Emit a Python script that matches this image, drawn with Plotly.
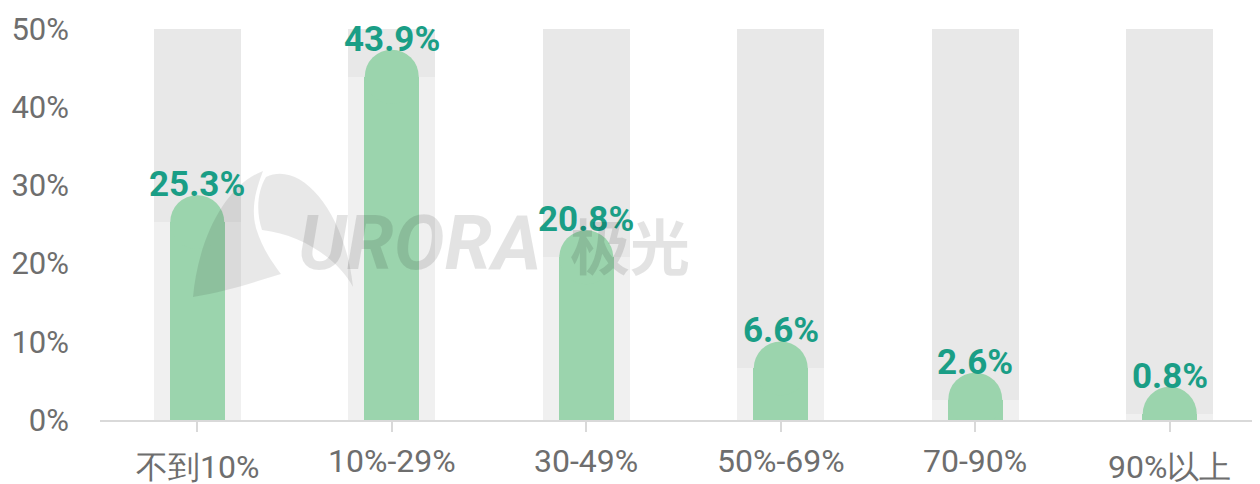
import plotly.graph_objects as go

categories = ["不到10%", "10%-29%", "30-49%", "50%-69%", "70-90%", "90%以上"]
values = [25.3, 43.9, 20.8, 6.6, 2.6, 0.8]
y_max = 50
y_ticks = [0, 10, 20, 30, 40, 50]
y_tick_labels = ["0%", "10%", "20%", "30%", "40%", "50%"]

# page has an 8px body margin; the figure is offset by it
OFF = 8
W, H = 1260 - OFF, 484 - OFF
M_L, M_R, M_T = 100 - OFF, 0, 29 - OFF
M_B = H - (420 - OFF)
plot_h = H - M_T - M_B
plot_w = W - M_L - M_R
cat_px = 194.5
cap_px = 27  # radius of rounded cap

x = list(range(len(categories)))

fig = go.Figure()
# full-height background column
fig.add_bar(x=x, y=[y_max] * len(x), width=0.447, marker=dict(color="#e8e8e8", line_width=0),
            hoverinfo="skip", showlegend=False)
# lighter portion up to the value
fig.add_bar(x=x, y=values, width=0.447, marker=dict(color="#f0f0f0", line_width=0),
            hoverinfo="skip", showlegend=False)
# green bars
fig.add_bar(x=x, y=values, width=0.283,
            marker=dict(color="#9bd4ad", line_width=0),
            hovertemplate="%{y}%<extra></extra>", showlegend=False)
# rounded caps (circles centred on the value, clipped at the axis)
fig.add_scatter(x=x, y=values, mode="markers", cliponaxis=True,
                marker=dict(symbol="circle", size=2 * cap_px, color="#9bd4ad", line_width=0),
                hoverinfo="skip", showlegend=False)

for xi, v in zip(x, values):
    fig.add_annotation(x=xi, y=v, text=f"{v}%", showarrow=False, yanchor="bottom",
                       yshift=cap_px - 12,
                       font=dict(family="Roboto", size=35, color="#1a9e86", weight="bold"))

# category labels (labels with CJK characters sit a little lower, as in the original)
for xi, lab in zip(x, categories):
    has_cjk = any(ord(ch) > 0x2E80 for ch in lab)
    fig.add_annotation(x=xi, y=0, text=lab, showarrow=False, yanchor="top",
                       yshift=-20 - (6 if has_cjk else 0),
                       font=dict(family="Roboto", size=32, color="#6e6e6e"))

# watermark
def to_paper(px, py):
    return (px - OFF - M_L) / plot_w, (H - M_B - (py - OFF)) / plot_h

def path(points_cmds):
    out = []
    for cmd, pts in points_cmds:
        coords = []
        for (px, py) in pts:
            a, b = to_paper(px, py)
            coords.append(f"{a:.5f},{b:.5f}")
        out.append(cmd + " " + " ".join(coords))
    return " ".join(out) + " Z"

leg = path([
    ("M", [(193, 297)]),
    ("C", [(198, 240), (225, 185), (263, 171)]),
    ("C", [(258, 185), (250, 205), (256, 228)]),
    ("C", [(262, 248), (272, 262), (281, 274)]),
    ("C", [(255, 282), (225, 292), (193, 297)]),
])
blade = path([
    ("M", [(266, 177)]),
    ("C", [(300, 160), (345, 210), (353, 287)]),
    ("C", [(340, 262), (305, 235), (262, 230)]),
    ("C", [(256, 212), (257, 192), (266, 177)]),
])
for p in (leg, blade):
    fig.add_shape(type="path", path=p, xref="paper", yref="paper",
                  fillcolor="rgba(0,0,0,0.09)", line_width=0, layer="above")

wx, wy = to_paper(296, 243)
fig.add_annotation(x=wx, y=wy, xref="paper", yref="paper", xanchor="left", text="<i><b>URORA</b></i>",
                   showarrow=False,
                   font=dict(family="Roboto", size=76, color="rgba(0,0,0,0.11)"))
cx, cy = to_paper(568, 243)
fig.add_annotation(x=cx, y=cy, xref="paper", yref="paper", xanchor="left", text="<b>极光</b>", showarrow=False,
                   font=dict(family="Noto Sans CJK SC", size=60, color="rgba(0,0,0,0.11)"))

fig.update_layout(
    width=W, height=H,
    margin=dict(l=M_L, r=M_R, t=M_T, b=M_B, pad=0, autoexpand=False),
    paper_bgcolor="white", plot_bgcolor="white",
    barmode="overlay",
    bargap=0,
    font=dict(family="Roboto", color="#6e6e6e", size=30),
    xaxis=dict(
        tickmode="array", tickvals=x, ticktext=[""] * len(x),
        range=[-0.5, -0.5 + plot_w / cat_px],
        showline=True, linecolor="#d9d9d9", linewidth=2,
        ticks="outside", tickson="boundaries", ticklen=10, tickcolor="#d9d9d9", tickwidth=2,
        showgrid=False, zeroline=False, automargin=False,
    ),
    yaxis=dict(
        range=[0, y_max], tickmode="array", tickvals=y_ticks, ticktext=y_tick_labels,
        showgrid=False, zeroline=False, showline=False, ticks="",
        ticklabelstandoff=30, automargin=False,
        tickfont=dict(size=31, color="#6e6e6e"),
    ),
)

fig.write_html("out.html")
